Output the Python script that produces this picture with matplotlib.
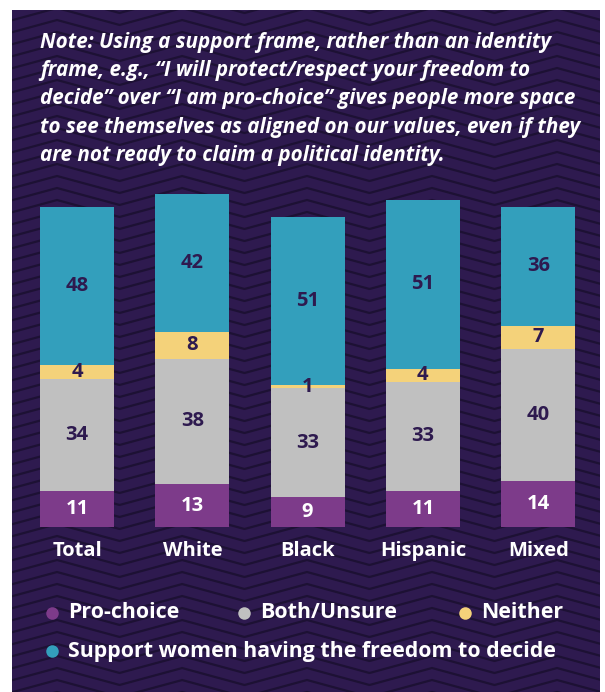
import matplotlib.pyplot as plt
import numpy as np
from matplotlib.patches import Rectangle

groups = ["Total", "White", "Black", "Hispanic", "Mixed"]
pro_choice = [11, 13, 9, 11, 14]
both_unsure = [34, 38, 33, 33, 40]
neither = [4, 8, 1, 4, 7]
support = [48, 42, 51, 51, 36]

series = [("Pro-choice", pro_choice, "#7d3b8a", "white"),
          ("Both/Unsure", both_unsure, "#c0c0c0", "#2e1a4f"),
          ("Neither", neither, "#f4d27a", "#2e1a4f"),
          ("Support women having the freedom to decide", support, "#339fbc", "#2e1a4f")]

note = ("Note: Using a support frame, rather than an identity\n"
        "frame, e.g., \u201cI will protect/respect your freedom to\n"
        "decide\u201d over \u201cI am pro-choice\u201d gives people more space\n"
        "to see themselves as aligned on our values, even if they\n"
        "are not ready to claim a political identity.")

FONT = "Open Sans"
W, H = 605, 692
fig = plt.figure(figsize=(W / 100, H / 100), dpi=100)
fig.patch.set_facecolor("white")

# background panel with zigzag pattern (pixel coordinates)
bg = fig.add_axes([0, 0, 1, 1])
bg.set_xlim(0, W)
bg.set_ylim(H, 0)
bg.axis("off")
panel = Rectangle((12, 10), 588, 690, facecolor="#2e1a4f", edgecolor="none")
bg.add_patch(panel)
xs = np.linspace(0, W, 1200)
d = np.mod(xs - 57, 125)
tri = 17 * (1 - np.abs(d - 62.5) / 62.5)
for k in range(-3, 62):
    ln, = bg.plot(xs, 8 + k * 12 + tri, color="#1d1134", lw=1.6)
    ln.set_clip_path(panel)

fig.text(40 / W, 1 - 32 / H, note, color="white", fontsize=14.9, fontstyle="italic",
         fontweight="bold", family=FONT, va="top", ha="left", linespacing=1.45)

# bars
ax = fig.add_axes([12 / W, (H - 527) / H, 588 / W, 342 / H])
ax.set_facecolor("none")
ax.set_xlim(-0.564, 4.536)
ax.set_ylim(0, 342 / 3.3)
ax.axis("off")

x = np.arange(len(groups))
bottom = np.zeros(len(groups))
for name, vals, col, tcol in series:
    vals = np.array(vals)
    ax.bar(x, vals, width=0.642, bottom=bottom, color=col, edgecolor="none")
    for xi, b, v in zip(x, bottom, vals):
        ax.text(xi, b + v / 2, str(v), ha="center", va="center", color=tcol,
                fontsize=14.5, fontweight="bold", family=FONT)
    bottom += vals

for xi, g in zip(x, groups):
    ax.text(xi, -7.2, g, ha="center", va="center", color="white", fontsize=14.5,
            fontweight="bold", family=FONT, clip_on=False)

# legend
def leg_item(px, py, label, col):
    bg.plot(px, py, "o", color=col, markersize=9, markeredgewidth=0)
    bg.text(px + 16, py, label, color="white", fontsize=15.4, fontweight="bold",
            family=FONT, va="center", ha="left")

leg_item(52, 613, series[0][0], series[0][2])
leg_item(244, 613, series[1][0], series[1][2])
leg_item(465, 613, series[2][0], series[2][2])
leg_item(52, 651, series[3][0], series[3][2])

fig.savefig("out.png", dpi=100)
